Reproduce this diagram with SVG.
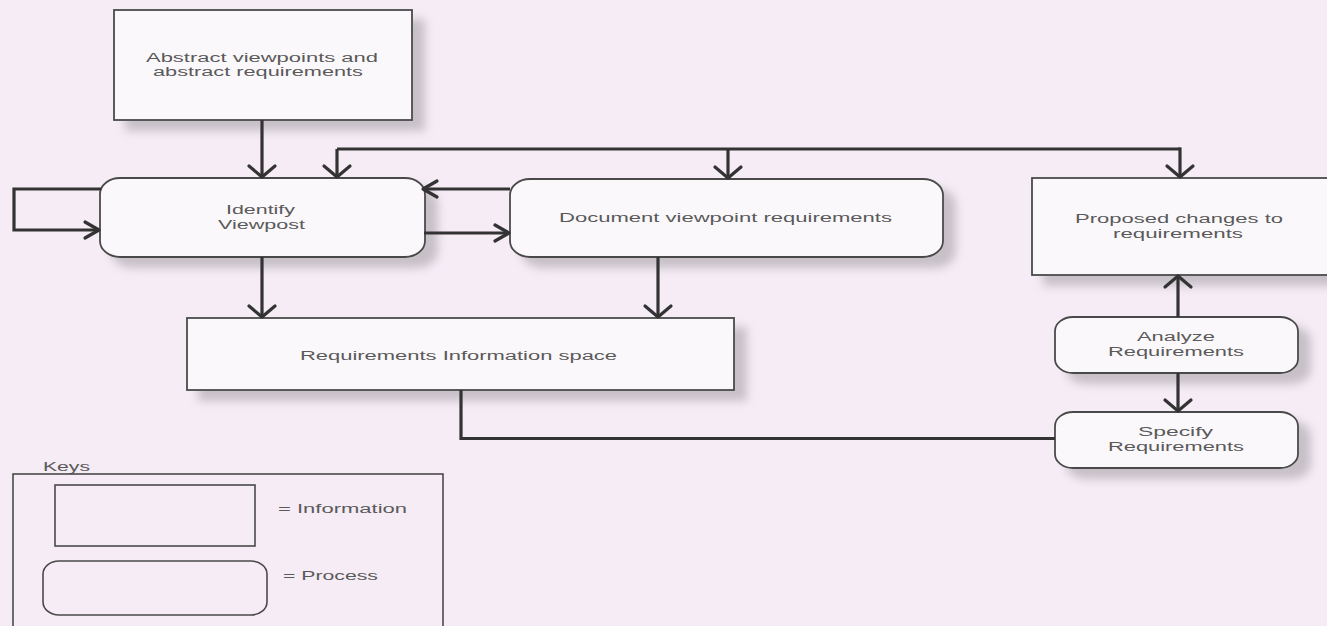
<svg xmlns="http://www.w3.org/2000/svg" width="1327" height="626" viewBox="0 0 1327 626">
  <defs>
    <style>
      .info { fill: #fbf8fb; stroke: #4a4a4a; stroke-width: 1.8; }
      .proc { fill: #fbf8fb; stroke: #4a4a4a; stroke-width: 1.8; }
      .key  { fill: none; stroke: #4a4a4a; stroke-width: 1.6; }
      .lbl  { font-family: "Liberation Sans", Arial, sans-serif; font-size: 12px; fill: #5a5a5a; }
      .wire { fill: none; stroke: #333333; stroke-width: 3.2; stroke-linejoin: miter; }
      .head { fill: none; stroke: #333333; stroke-width: 3.2; stroke-linecap: round; stroke-linejoin: round; }
    </style>
    <filter id="shade" x="-10%" y="-20%" width="130%" height="160%">
      <feDropShadow dx="12" dy="10" stdDeviation="5" flood-color="#8f8a8f" flood-opacity="0.45"/>
    </filter>
    <!-- chevron heads: wide one for vertical runs, narrow one for horizontal runs -->
    <marker id="arrV" markerUnits="userSpaceOnUse" markerWidth="30" markerHeight="30" refX="0" refY="0" orient="auto" overflow="visible">
      <path class="head" d="M-11,-13 L0,0 L-11,13"/>
    </marker>
    <marker id="arrH" markerUnits="userSpaceOnUse" markerWidth="30" markerHeight="30" refX="0" refY="0" orient="auto" overflow="visible">
      <path class="head" d="M-14,-8 L0,0 L-14,8"/>
    </marker>
  </defs>

  <rect x="0" y="0" width="1327" height="626" fill="#f5ecf5"/>

  <!-- information nodes -->
  <g id="abstract">
    <rect class="info" x="114" y="10" width="298" height="110" filter="url(#shade)"/>
    <text class="lbl" x="146" y="62" textLength="232" lengthAdjust="spacingAndGlyphs">Abstract viewpoints and</text>
    <text class="lbl" x="153" y="76" textLength="210" lengthAdjust="spacingAndGlyphs">abstract requirements</text>
  </g>

  <g id="proposed">
    <rect class="info" x="1032" y="178" width="300" height="97" filter="url(#shade)"/>
    <text class="lbl" x="1075" y="223" textLength="208" lengthAdjust="spacingAndGlyphs">Proposed changes to</text>
    <text class="lbl" x="1113" y="238" textLength="130" lengthAdjust="spacingAndGlyphs">requirements</text>
  </g>

  <g id="info-space">
    <rect class="info" x="187" y="318" width="547" height="72" filter="url(#shade)"/>
    <text class="lbl" x="300" y="360" textLength="317" lengthAdjust="spacingAndGlyphs">Requirements Information space</text>
  </g>

  <!-- process nodes -->
  <g id="identify">
    <rect class="proc" x="100" y="178" width="325" height="79" rx="20" ry="16" filter="url(#shade)"/>
    <text class="lbl" x="226" y="214" textLength="69" lengthAdjust="spacingAndGlyphs">Identify</text>
    <text class="lbl" x="218" y="229" textLength="87" lengthAdjust="spacingAndGlyphs">Viewpost</text>
  </g>

  <g id="document">
    <rect class="proc" x="510" y="179" width="433" height="78" rx="20" ry="16" filter="url(#shade)"/>
    <text class="lbl" x="559" y="222" textLength="333" lengthAdjust="spacingAndGlyphs">Document viewpoint requirements</text>
  </g>

  <g id="analyze">
    <rect class="proc" x="1055" y="317" width="243" height="56" rx="18" ry="14" filter="url(#shade)"/>
    <text class="lbl" x="1137" y="341" textLength="78" lengthAdjust="spacingAndGlyphs">Analyze</text>
    <text class="lbl" x="1108" y="356" textLength="136" lengthAdjust="spacingAndGlyphs">Requirements</text>
  </g>

  <g id="specify">
    <rect class="proc" x="1055" y="412" width="243" height="56" rx="18" ry="14" filter="url(#shade)"/>
    <text class="lbl" x="1138" y="436" textLength="75" lengthAdjust="spacingAndGlyphs">Specify</text>
    <text class="lbl" x="1108" y="451" textLength="136" lengthAdjust="spacingAndGlyphs">Requirements</text>
  </g>

  <!-- connectors -->
  <g id="connectors">
    <path class="wire" d="M262,120 V177" marker-end="url(#arrV)"/>
    <path class="wire" d="M337,149 H1180"/>
    <path class="wire" d="M337,149 V177" marker-end="url(#arrV)"/>
    <path class="wire" d="M728,149 V178" marker-end="url(#arrV)"/>
    <path class="wire" d="M1180,147.4 V177" marker-end="url(#arrV)"/>
    <path class="wire" d="M101,189 H14 V230 H99" marker-end="url(#arrH)"/>
    <path class="wire" d="M510,189 H423" marker-end="url(#arrH)"/>
    <path class="wire" d="M424,233 H509" marker-end="url(#arrH)"/>
    <path class="wire" d="M262,257 V317" marker-end="url(#arrV)"/>
    <path class="wire" d="M658,257 V317" marker-end="url(#arrV)"/>
    <path class="wire" d="M1178,317 V276" marker-end="url(#arrV)"/>
    <path class="wire" d="M1178,373 V411" marker-end="url(#arrV)"/>
    <path class="wire" d="M461,390 V438.5 H1055"/>
  </g>

  <!-- legend -->
  <g id="keys">
    <text class="lbl" x="43" y="471" textLength="47" lengthAdjust="spacingAndGlyphs">Keys</text>
    <rect class="key" x="13" y="474" width="430" height="160"/>
    <rect class="key" x="55" y="485" width="200" height="61" stroke-width="2"/>
    <text class="lbl" x="278" y="513" textLength="129" lengthAdjust="spacingAndGlyphs">=  Information</text>
    <rect class="key" x="43" y="561" width="224" height="54" rx="16" ry="13"/>
    <text class="lbl" x="283" y="580" textLength="95" lengthAdjust="spacingAndGlyphs">= Process</text>
  </g>
</svg>
